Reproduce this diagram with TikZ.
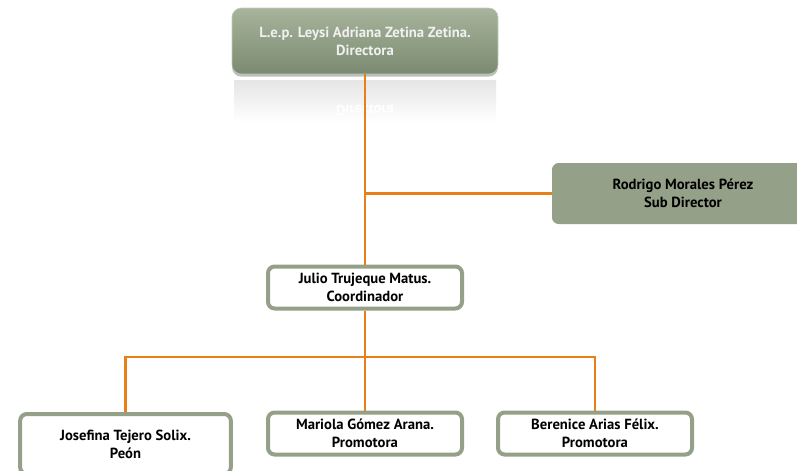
\documentclass[tikz,border=0pt]{standalone}
\usepackage{fontspec}
\setmainfont{PT Sans}
\usetikzlibrary{shadows}
\definecolor{sage}{RGB}{148,160,136}
\definecolor{sagetop}{RGB}{168,180,156}
\definecolor{sagebot}{RGB}{122,138,112}
\definecolor{wire}{RGB}{232,128,26}
\begin{document}
\begin{tikzpicture}[x=0.75pt,y=-0.75pt]
	\fontsize{11}{13.5}\selectfont\bfseries
	\def \toprow{41}
	\def \subrow{193.5}
	\def \midrow{287.5}
	\def \busrow{357}
	\def \lowrow{433.5}
	\useasboundingbox (0,0) rectangle (797,471);
	\tikzstyle{boss-box}=[rounded corners=7pt,top color=sagetop,bottom color=sagebot,text=white!94!black,draw=sagetop!70!white,thin,minimum width=199.5pt,minimum height=49.5pt,align=center,drop shadow={shadow xshift=0pt,shadow yshift=-2pt,opacity=0.5}]
	\tikzstyle{sub-box}=[rounded corners=5pt,fill=sage,minimum width=196.5pt,minimum height=45.75pt,align=center]
	\tikzstyle{staff-box}=[rounded corners=5pt,fill=white,draw=sage,line width=3pt,minimum width=145.5pt,minimum height=31.5pt,align=center]
	\tikzstyle{wire-line}=[draw=wire,line width=2pt]
	% reflection under the top box
	\shade[top color=black!10,bottom color=white] (234,80) rectangle (496,122);
	\node[text=white,yscale=-1] (refl) at (365,111) {Directora};
	% boxes
	\node[boss-box] 	(dir)	at (365,\toprow)	{L.e.p. Leysi Adriana Zetina Zetina.\\Directora};
	\node[sub-box] 	(sub)	at (683,\subrow)	{Rodrigo Morales Pérez\\Sub Director};
	\node[staff-box] 	(coord)	at (365,\midrow)	{Julio Trujeque Matus.\\Coordinador};
	\node[staff-box,minimum width=158pt,minimum height=45pt] 	(jos)	at (125.5,444)	{Josefina Tejero Solix.\\Peón};
	\node[staff-box] 	(mar)	at (365,\lowrow)	{Mariola Gómez Arana.\\Promotora};
	\node[staff-box] 	(ber)	at (595,\lowrow)	{Berenice Arias Félix.\\Promotora};
	\coordinate (bus) at (365,\busrow);
	% connectors
	\draw[wire-line] (dir.south) -- (coord.north);
	\draw[wire-line] (dir.south |- sub.west) -- (sub.west);
	\draw[wire-line] (coord.south) -- (bus) -- (mar.north);
	\draw[wire-line] (jos.north) |- (bus) -| (ber.north);
\end{tikzpicture}
\end{document}
